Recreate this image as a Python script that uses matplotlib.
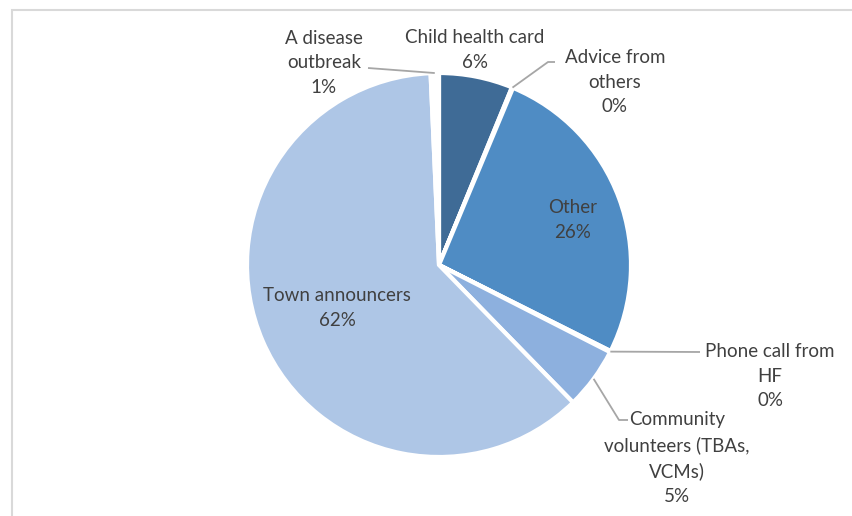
import numpy as np
import matplotlib
matplotlib.use("Agg")
from matplotlib import pyplot as plt
from matplotlib.patches import Rectangle

# slice order: clockwise from 12 o'clock
labels = ["Child health card", "Advice from\nothers", "Other", "Phone call from\nHF",
          "Community\nvolunteers (TBAs,\nVCMs)", "Town announcers", "A disease\noutbreak"]
values = [6.2, 0.1, 26.1, 0.1, 5.2, 61.6, 0.7]
colors = ["#3F6B96", "#3F6B96", "#4F8CC4", "#8DB0DE", "#8DB0DE", "#AEC6E6", "#FFFFFF"]

plt.rcParams['font.family'] = ['Lato', 'DejaVu Sans']

W, H = 852, 516
fig = plt.figure(figsize=(W / 100, H / 100), dpi=100)
ax = fig.add_axes([0, 0, 1, 1])

cx, cy, r = 439, H - 265, 192
wedges, _ = ax.pie(values, colors=colors, startangle=90, counterclock=False,
                   center=(cx, cy), radius=r, frame=True,
                   wedgeprops=dict(edgecolor='white', linewidth=3))
ax.set_xlim(0, W)
ax.set_ylim(0, H)
ax.set_aspect('equal')
ax.axis('off')

txt = '#404040'
line_c = '#A6A6A6'
fs = 13.5
ls = 1.55


def pct(v):
    return "%d%%" % round(v)


def edge_point(i, frac=0.5):
    w = wedges[i]
    th = np.deg2rad(w.theta1 + (w.theta2 - w.theta1) * frac)
    return cx + r * np.cos(th), cy + r * np.sin(th)


# label centres (pixels from top-left)
label_pos = {0: (475, 50), 1: (615, 82), 2: (573, 220), 3: (770, 376),
             4: (677, 458), 5: (337, 308), 6: (324, 63)}

for i, (x, y) in label_pos.items():
    ax.text(x, H - y, labels[i] + "\n" + pct(values[i]), ha='center', va='center',
            color=txt, fontsize=fs, linespacing=ls)

# leader lines
leaders = {
    1: [(555, 62), (548, 62)],
    3: [(700, 352)],
    4: [(628, 420), (619, 420)],
    6: [(368, 68)],
}
for i, pts in leaders.items():
    ex, ey = edge_point(i)
    xs = [p[0] for p in pts] + [ex]
    ys = [H - p[1] for p in pts] + [ey]
    ax.plot(xs, ys, color=line_c, lw=1.3, solid_capstyle='butt')

# chart area border (left and top visible)
ax.add_patch(Rectangle((12, -20), W + 40, H - 10 + 20, fill=False,
                       edgecolor='#D9D9D9', lw=1.5, clip_on=False))

fig.savefig("out.png", dpi=100, facecolor='white')
